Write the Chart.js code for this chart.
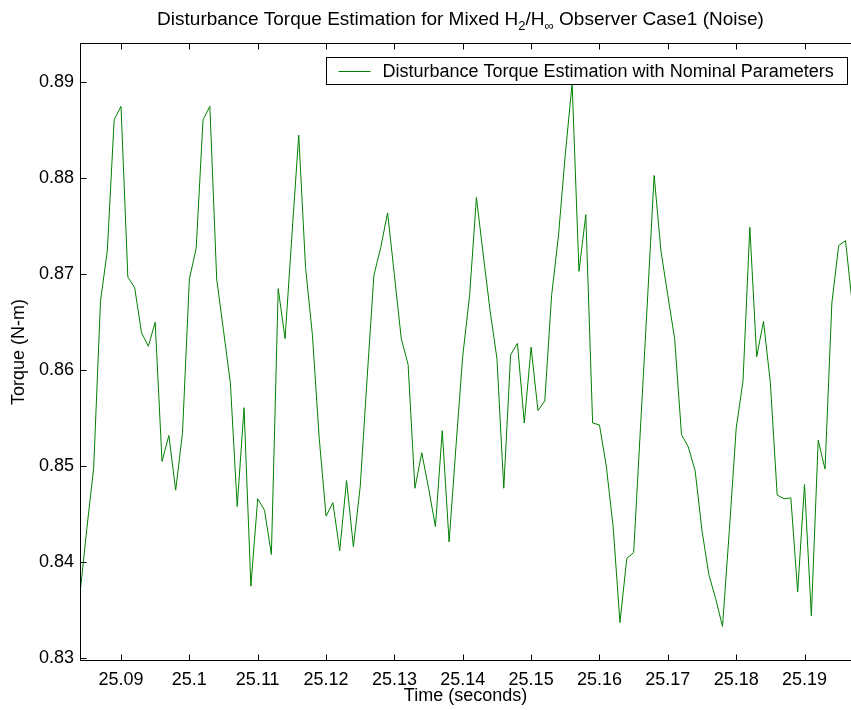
<!DOCTYPE html>
<html><head><meta charset="utf-8">
<script src="https://cdn.jsdelivr.net/npm/chart.js@4/dist/chart.umd.min.js"></script>
<style>html,body{margin:0;padding:0;background:#fff;}canvas{display:block;}</style>
</head><body>
<canvas id="c" width="851" height="710"></canvas>
<script>
// ---- data ----
const times = [
25.084,25.085,25.086,25.087,25.088,25.089,25.090,25.091,25.092,25.093,
25.094,25.095,25.096,25.097,25.098,25.099,25.100,25.101,25.102,25.103,
25.104,25.105,25.106,25.107,25.108,25.109,25.110,25.111,25.112,25.113,
25.114,25.115,25.116,25.117,25.118,25.119,25.120,25.121,25.122,25.123,
25.124,25.125,25.126,25.127,25.128,25.129,25.130,25.131,25.132,25.133,
25.134,25.135,25.136,25.137,25.138,25.139,25.140,25.141,25.142,25.143,
25.144,25.145,25.146,25.147,25.148,25.149,25.150,25.151,25.152,25.153,
25.154,25.155,25.156,25.157,25.158,25.159,25.160,25.161,25.162,25.163,
25.164,25.165,25.166,25.167,25.168,25.169,25.170,25.171,25.172,25.173,
25.174,25.175,25.176,25.177,25.178,25.179,25.180,25.181,25.182,25.183,
25.184,25.185,25.186,25.187,25.188,25.189,25.190,25.191,25.192,25.193,
25.194,25.195,25.196,25.197];
const torque = [
0.8367,0.8435,0.8498,0.8672,0.8725,0.8861,0.8875,0.8697,0.8686,0.8639,
0.8625,0.8650,0.8505,0.8532,0.8475,0.8535,0.8695,0.8727,0.8861,0.8875,
0.8695,0.8641,0.8587,0.8458,0.8561,0.8375,0.8466,0.8454,0.8408,0.8685,
0.8633,0.8740,0.8845,0.8707,0.8637,0.8529,0.8448,0.8462,0.8412,0.8485,
0.8416,0.8479,0.8591,0.8699,0.8728,0.8764,0.8699,0.8633,0.8606,0.8477,
0.8514,0.8477,0.8437,0.8537,0.8421,0.8520,0.8615,0.8678,0.8780,0.8720,
0.8662,0.8612,0.8477,0.8616,0.8628,0.8545,0.8624,0.8558,0.8568,0.8678,
0.8740,0.8825,0.8899,0.8703,0.8762,0.8545,0.8543,0.8500,0.8437,0.8337,
0.8404,0.8410,0.8540,0.8670,0.8803,0.8724,0.8678,0.8633,0.8533,0.8520,
0.8495,0.8433,0.8387,0.8362,0.8333,0.8433,0.8539,0.8589,0.8749,0.8614,
0.8651,0.8587,0.8470,0.8466,0.8467,0.8369,0.8481,0.8344,0.8527,0.8497,
0.8670,0.8730,0.8735,0.8668];
const xTickValues = [25.09,25.10,25.11,25.12,25.13,25.14,25.15,25.16,25.17,25.18,25.19];
const yTickValues = [0.83,0.84,0.85,0.86,0.87,0.88,0.89];
const xRange = [25.084, 25.1968];
const yRange = [0.8297, 0.8941];
const seriesLabel = 'Disturbance Torque Estimation with Nominal Parameters';
const titleParts = [
  {t:'Disturbance Torque Estimation for Mixed H'},
  {t:'2', sub:true},
  {t:'/H'},
  {t:'\u221E', sub:true},
  {t:' Observer Case1 (Noise)'}
];
const xTitle = 'Time (seconds)';
const yTitle = 'Torque (N-m)';

// ---- drawing ----
const FONT = '"Liberation Sans", Arial, Helvetica, sans-serif';
const LINE_COLOR = 'rgb(0,128,0)';

const framePlugin = {
  id: 'frame',
  afterDatasetsDraw(chart) {
    const {ctx, chartArea: a, scales: {x, y}} = chart;
    const L = Math.round(a.left) + 0.5, R = Math.round(a.right) + 0.5;
    const T = Math.round(a.top) + 0.5, B = Math.round(a.bottom) - 0.5;
    ctx.save();
    ctx.strokeStyle = '#000';
    ctx.lineWidth = 1;
    ctx.beginPath();
    ctx.moveTo(L, T); ctx.lineTo(R, T);
    ctx.moveTo(L, B); ctx.lineTo(R, B);
    ctx.moveTo(L, T); ctx.lineTo(L, B);
    const tl = 6;
    x.ticks.forEach(tk => {
      const px = Math.round(x.getPixelForValue(tk.value)) + 0.5;
      ctx.moveTo(px, B); ctx.lineTo(px, B - tl);
      ctx.moveTo(px, T); ctx.lineTo(px, T + tl);
    });
    y.ticks.forEach(tk => {
      const py = Math.round(y.getPixelForValue(tk.value)) + 0.5;
      ctx.moveTo(L, py); ctx.lineTo(L + tl, py);
    });
    ctx.stroke();
    ctx.restore();
  }
};

const legendPlugin = {
  id: 'boxLegend',
  afterDraw(chart) {
    const {ctx, chartArea: a} = chart;
    const ds = chart.data.datasets[0];
    ctx.save();
    ctx.font = '18px ' + FONT;
    const tw = ctx.measureText(ds.label).width;
    const padL = 12, lineW = 32, gap = 12, padR = 14, h = 27;
    const w = padL + lineW + gap + tw + padR;
    const right = Math.round(a.right) - 3.5;
    const top = Math.round(a.top) + 14.5;
    const left = Math.round(right - w) + 0.5;
    ctx.fillStyle = '#fff';
    ctx.fillRect(left, top, right - left, h);
    ctx.strokeStyle = '#000';
    ctx.lineWidth = 1;
    ctx.strokeRect(left, top, right - left, h);
    const cy = top + h / 2;
    ctx.strokeStyle = ds.borderColor;
    ctx.beginPath();
    ctx.moveTo(left + padL, Math.round(cy) + 0.5);
    ctx.lineTo(left + padL + lineW, Math.round(cy) + 0.5);
    ctx.stroke();
    ctx.fillStyle = '#000';
    ctx.textBaseline = 'middle';
    ctx.textAlign = 'left';
    ctx.fillText(ds.label, left + padL + lineW + gap, cy + 1);
    ctx.restore();
  }
};

const titlePlugin = {
  id: 'subTitle',
  afterDraw(chart) {
    const {ctx, chartArea: a} = chart;
    ctx.save();
    const big = '19px ' + FONT, small = '13px ' + FONT;
    let total = 0;
    titleParts.forEach(p => { ctx.font = p.sub ? small : big; total += ctx.measureText(p.t).width; });
    let xx = (a.left + a.right) / 2 - 5 - total / 2;
    const yy = 20;
    ctx.fillStyle = '#000';
    ctx.textAlign = 'left';
    ctx.textBaseline = 'middle';
    titleParts.forEach(p => {
      ctx.font = p.sub ? small : big;
      ctx.fillText(p.t, xx, p.sub ? yy + 6 : yy);
      xx += ctx.measureText(p.t).width;
    });
    ctx.restore();
  }
};

new Chart(document.getElementById('c'), {
  type: 'line',
  data: {
    datasets: [{
      label: seriesLabel,
      data: times.map((t, i) => ({x: t, y: torque[i]})),
      borderColor: LINE_COLOR,
      borderWidth: 1,
      pointRadius: 0,
      tension: 0,
      fill: false
    }]
  },
  options: {
    responsive: false,
    animation: false,
    devicePixelRatio: 1,
    layout: {padding: {top: 43, left: 0, right: 0, bottom: 0}},
    plugins: {legend: {display: false}, title: {display: false}, tooltip: {enabled: false}},
    scales: {
      x: {
        type: 'linear',
        min: xRange[0], max: xRange[1],
        afterBuildTicks: s => { s.ticks = xTickValues.map(v => ({value: v})); },
        afterFit: s => { s.height = 49; },
        grid: {display: false, drawTicks: false},
        border: {display: false},
        ticks: {
          padding: 8, color: '#000', font: {family: FONT, size: 18},
          maxRotation: 0, autoSkip: false,
          callback: v => String(Number(v.toFixed(2)))
        },
        title: {display: true, text: xTitle, color: '#000', font: {family: FONT, size: 18}, padding: {top: 0, bottom: 3}}
      },
      y: {
        type: 'linear',
        min: yRange[0], max: yRange[1],
        afterBuildTicks: s => { s.ticks = yTickValues.map(v => ({value: v})); },
        afterFit: s => { s.width = 80; },
        grid: {display: false, drawTicks: false},
        border: {display: false},
        ticks: {
          padding: 6, color: '#000', font: {family: FONT, size: 18},
          autoSkip: false,
          callback: v => v.toFixed(2)
        },
        title: {display: true, text: yTitle, color: '#000', font: {family: FONT, size: 18}, padding: {top: 8, bottom: 0}}
      }
    }
  },
  plugins: [framePlugin, legendPlugin, titlePlugin]
});
</script>
</body></html>
